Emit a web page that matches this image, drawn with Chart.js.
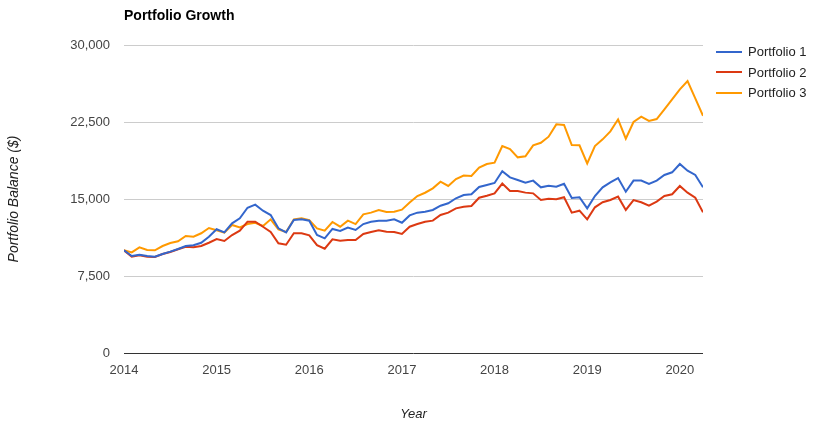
<!DOCTYPE html>
<html>
<head>
<meta charset="utf-8">
<script src="https://cdn.jsdelivr.net/npm/chart.js@4.4.1/dist/chart.umd.min.js"></script>
<style>
html, body { margin: 0; padding: 0; background: #fff; }
#wrap { position: relative; width: 835px; height: 435px; }
#legend { position: absolute; left: 716px; top: 41.5px; font: 13px Arial, "Liberation Sans", sans-serif; color: #222; }
.row { height: 20.5px; display: flex; align-items: center; }
.swatch { width: 26px; height: 2px; margin-right: 6px; }
</style>
</head>
<body>
<div id="wrap">
  <canvas id="growth-chart" width="835" height="435"></canvas>
  <div id="legend"></div>
</div>
<script>
// monthly balances, Jan 2014 .. Apr 2020
var startYear = 2014;
var seriesNames = ["Portfolio 1", "Portfolio 2", "Portfolio 3"];
var seriesColors = ["#3366cc", "#dc3912", "#ff9900"];
var yTicks = [0, 7500, 15000, 22500, 30000];
var xTicks = [2014, 2015, 2016, 2017, 2018, 2019, 2020];

var portfolio1 = [10000, 9450, 9580, 9450, 9380, 9640, 9870, 10130, 10420, 10490, 10740, 11330,
    12050, 11750, 12630, 13120, 14150, 14450, 13860, 13440, 12140, 11750, 12950, 13020,
    12890, 11490, 11170, 12080, 11880, 12210, 11980, 12560, 12790, 12890, 12890, 13020,
    12690, 13400, 13670, 13760, 13930, 14350, 14580, 15070, 15390, 15460, 16170, 16360,
    16560, 17700, 17110, 16850, 16590, 16790, 16140, 16300, 16200, 16490, 15100, 15170,
    14090, 15290, 16140, 16620, 17040, 15710, 16790, 16790, 16460, 16790, 17340, 17600,
    18410, 17760, 17340, 16140];
var portfolio2 = [10000, 9380, 9510, 9380, 9350, 9640, 9840, 10100, 10350, 10290, 10420, 10740,
    11100, 10910, 11490, 11910, 12790, 12790, 12300, 11790, 10680, 10550, 11660, 11660,
    11460, 10500, 10160, 11070, 10940, 11010, 11010, 11590, 11790, 11950, 11820, 11790,
    11590, 12300, 12560, 12790, 12890, 13440, 13670, 14090, 14250, 14320, 15120, 15310,
    15550, 16500, 15780, 15780, 15620, 15550, 14900, 15030, 14970, 15170, 13670, 13860,
    13020, 14190, 14680, 14900, 15230, 13930, 14900, 14680, 14350, 14740, 15290, 15460,
    16270, 15620, 15130, 13700];
var portfolio3 = [10000, 9800, 10290, 10030, 10000, 10420, 10710, 10880, 11400, 11330, 11660, 12175,
    11950, 11720, 12470, 12240, 12560, 12690, 12370, 13020, 12050, 11790, 13020, 13120,
    12950, 12140, 11910, 12760, 12300, 12890, 12560, 13510, 13670, 13930, 13730, 13760,
    13960, 14660, 15290, 15610, 16040, 16690, 16270, 16940, 17290, 17250, 18050, 18410,
    18540, 20160, 19870, 19060, 19160, 20230, 20480, 21070, 22270, 22210, 20260, 20230,
    18470, 20160, 20810, 21590, 22760, 20870, 22500, 23020, 22600, 22790, 23730, 24710,
    25680, 26490, 24800, 23110];

var FONT = "Arial, 'Liberation Sans', sans-serif";

function toPoints(values) {
    return values.map(function (v, i) {
        return { x: startYear + i / 12, y: v };
    });
}

var allSeries = [portfolio1, portfolio2, portfolio3];
var datasets = allSeries.map(function (vals, k) {
    return {
        label: seriesNames[k],
        data: toPoints(vals),
        borderColor: seriesColors[k],
        backgroundColor: seriesColors[k],
        borderWidth: 2,
        pointRadius: 0,
        tension: 0
    };
});

var titlePlugin = {
    id: "leftTitle",
    afterDraw: function (chart) {
        var c = chart.ctx;
        c.save();
        c.font = "bold 14px " + FONT;
        c.fillStyle = "#000";
        c.textBaseline = "middle";
        c.textAlign = "left";
        c.fillText("Portfolio Growth", chart.chartArea.left, 16);
        c.restore();
    }
};

var ctx = document.getElementById("growth-chart");
var growthChart = new Chart(ctx, {
    type: "line",
    data: { datasets: datasets },
    plugins: [titlePlugin],
    options: {
        responsive: false,
        animation: false,
        layout: { padding: { top: 45, right: 132, bottom: 0, left: 0 } },
        plugins: {
            legend: { display: false },
            tooltip: { enabled: false }
        },
        scales: {
            x: {
                type: "linear",
                min: 2014,
                max: 2020.25,
                afterBuildTicks: function (scale) {
                    scale.ticks = xTicks.map(function (v) { return { value: v }; });
                },
                afterFit: function (scale) { scale.height = 82; },
                grid: { display: false, drawTicks: false },
                border: { display: false },
                ticks: {
                    padding: 10,
                    color: "#444",
                    font: { family: FONT, size: 13 },
                    maxRotation: 0,
                    callback: function (v) { return String(v); }
                },
                title: {
                    display: true,
                    text: "Year",
                    color: "#222",
                    font: { family: FONT, size: 13, style: "italic" },
                    padding: { top: 0, bottom: 13 }
                }
            },
            y: {
                min: 0,
                max: 30000,
                afterBuildTicks: function (scale) {
                    scale.ticks = yTicks.map(function (v) { return { value: v }; });
                },
                afterFit: function (scale) { scale.width = 124; },
                grid: {
                    drawTicks: false,
                    color: function (c) { return c.tick && c.tick.value === 0 ? "#333" : "#cccccc"; },
                    lineWidth: 1
                },
                border: { display: false },
                ticks: {
                    padding: 14,
                    color: "#444",
                    font: { family: FONT, size: 13 },
                    callback: function (v) { return v.toLocaleString("en-US"); }
                },
                title: {
                    display: true,
                    text: "Portfolio Balance ($)",
                    color: "#222",
                    font: { family: FONT, size: 14, style: "italic" },
                    padding: { top: 6, bottom: 0 }
                }
            }
        }
    }
});

// legend built from the chart's datasets
var legend = document.getElementById("legend");
growthChart.data.datasets.forEach(function (ds) {
    var row = document.createElement("div");
    row.className = "row";
    var sw = document.createElement("span");
    sw.className = "swatch";
    sw.style.background = ds.borderColor;
    var txt = document.createElement("span");
    txt.textContent = ds.label;
    row.appendChild(sw);
    row.appendChild(txt);
    legend.appendChild(row);
});
</script>
</body>
</html>
